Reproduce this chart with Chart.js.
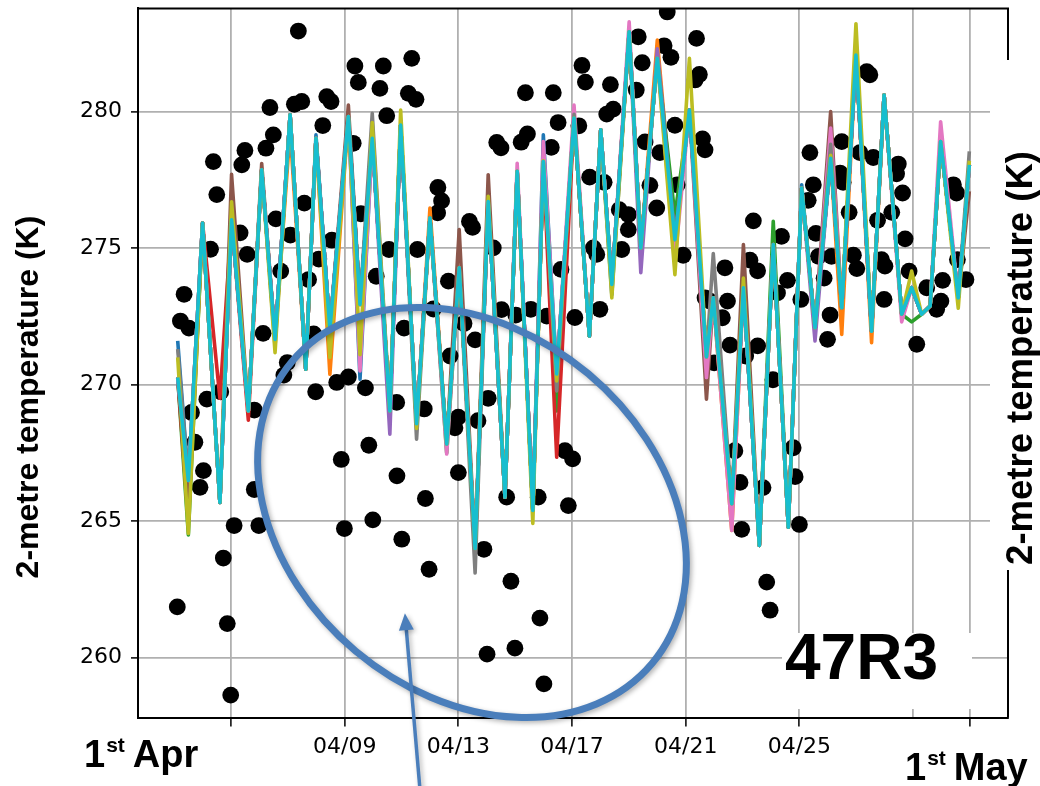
<!DOCTYPE html>
<html>
<head>
<meta charset="utf-8">
<title>2-metre temperature, ensemble vs observations</title>
<script src="https://cdn.jsdelivr.net/npm/chart.js@4.4.1/dist/chart.umd.min.js"></script>
<style>
  html, body { margin: 0; padding: 0; background: #fff; }
  #wrap { width: 1040px; height: 786px; position: relative; }
</style>
</head>
<body>
<div id="wrap"><canvas id="chart" width="1040" height="786"></canvas></div>
<script>
// ---- time axis (days of April; 31 = 1 May) ----
const dateTicks  = [5, 9, 13, 17, 21, 25, 29, 31];
const dateLabels = ['', '04/09', '04/13', '04/17', '04/21', '04/25', '', ''];
const tempTicks  = [260, 265, 270, 275, 280];

// ---- forecast ensemble: shared step times and the control trace (K) ----
const stepDays = [3.125, 3.50, 4.00, 4.61, 5.02, 5.61, 6.08, 6.55, 7.08, 7.63,
  7.99, 8.48, 9.13, 9.54, 9.97, 10.59, 10.97, 11.53, 12.00, 12.59,
  13.03, 13.59, 14.05, 14.64, 15.07, 15.62, 15.99, 16.46, 17.07, 17.61,
  18.01, 18.40, 19.01, 19.42, 20.00, 20.62, 21.13, 21.73, 21.97, 22.62,
  23.03, 23.59, 24.08, 24.61, 25.08, 25.55, 26.10, 26.49, 26.99, 27.54,
  27.98, 28.60, 28.95, 29.30, 29.60, 29.97, 30.59, 30.98];

const controlTemps = [270.26, 266.49, 275.92, 265.69, 276.04, 269.04, 277.87, 271.66, 279.88, 270.57,
  279.02, 272.03, 279.82, 272.94, 279.02, 269.04, 279.51, 268.57, 276.10, 267.83,
  274.28, 264.00, 276.71, 265.88, 277.81, 265.39, 278.17, 270.39, 279.76, 271.78,
  279.33, 273.67, 282.92, 275.01, 281.95, 275.31, 280.06, 271.02, 273.18, 265.64,
  273.55, 264.11, 275.13, 264.78, 277.20, 272.09, 278.29, 272.82, 282.07, 271.96,
  280.61, 272.58, 273.55, 272.58, 272.88, 278.90, 273.18, 278.05];

// members share the control trace except at these steps: [step index, temperature]
const memberBlue   = [[0, 271.6], [10, 279.15], [13, 270.2], [26, 279.15], [31, 273.3], [44, 277.32]];
const memberOrange = [[8, 279.3], [11, 270.38], [18, 276.47], [34, 282.62], [39, 264.66], [47, 271.84], [49, 271.54]];
const memberGreen  = [[1, 264.5], [19, 267.5], [27, 269.04], [35, 276.2], [42, 275.98], [52, 272.3]];
const memberRed    = [[1, 265.0], [3, 269.5], [5, 268.7], [27, 267.34]];
const memberPurple = [[15, 268.19], [31, 273.6], [33, 274.1], [34, 282.3], [45, 271.6]];
const memberBrown  = [[1, 265.5], [4, 277.7], [6, 278.1], [12, 280.24], [20, 275.68], [22, 277.69],
  [37, 269.47], [40, 275.13], [46, 280.0], [57, 277.08]];
const memberPink   = [[13, 270.5], [19, 267.46], [24, 278.11], [26, 278.9], [28, 280.24], [32, 283.29],
  [35, 274.5], [37, 270.26], [39, 264.66], [46, 279.4], [51, 272.3], [55, 279.63]];
const memberGray   = [[0, 271.3], [7, 271.4], [14, 279.94], [17, 268.0], [21, 263.1], [27, 269.77],
  [28, 279.9], [38, 274.8], [46, 278.8], [57, 278.54]];
const memberOlive  = [[0, 271.0], [1, 264.55], [4, 276.7], [7, 271.17], [11, 271.0], [13, 271.1],
  [14, 279.6], [16, 280.06], [17, 268.4], [22, 276.9], [25, 264.92], [26, 278.2], [27, 270.14],
  [31, 273.18], [35, 274.03], [36, 281.95], [40, 273.9], [46, 278.4], [48, 283.22], [52, 274.16],
  [56, 272.8], [57, 278.2]];
const memberCyan   = [];

// ---- station observations ----
const obsDay = [7.37, 9.36, 9.48, 10.36, 10.24, 11.36, 11.24, 11.51, 6.37, 7.23,
  7.49, 8.37, 8.52, 10.48, 8.23, 6.49, 6.23, 5.49, 5.38, 4.38,
  4.50, 9.30, 7.58, 6.58, 9.57, 7.09, 8.55, 12.28, 12.41, 12.27,
  13.39, 13.50, 4.28, 5.57, 8.09, 10.56, 11.56, 5.32, 3.35, 3.22,
  3.52, 6.75, 7.73, 10.11, 12.12, 6.13, 7.91, 11.09, 6.98, 6.86,
  7.98, 8.72, 9.13, 9.73, 4.64, 4.15, 5.82, 3.61, 10.83, 11.80,
  3.73, 9.85, 8.88, 10.84, 4.03, 3.91, 5.82, 11.84, 5.11, 5.98,
  8.99, 9.99, 11.01, 11.97, 4.73, 3.11, 4.87, 4.99, 12.65, 12.71,
  13.00, 13.69, 13.20, 13.59, 13.00, 12.88, 14.05, 13.90, 14.23, 14.52,
  15.02, 15.55, 16.11, 17.10, 17.98, 16.61, 14.35, 14.50, 15.43, 15.21,
  16.27, 15.36, 16.34, 16.51, 17.24, 17.35, 17.47, 18.35, 19.26, 19.47,
  19.33, 20.24, 20.48, 21.38, 20.35, 21.48, 21.33, 18.22, 18.45, 20.62,
  19.57, 20.09, 21.59, 21.68, 17.62, 18.13, 19.74, 20.70, 18.66, 18.98,
  19.98, 18.98, 17.75, 17.87, 18.75, 20.91, 21.68, 16.75, 17.02, 14.70,
  15.81, 16.87, 14.85, 14.01, 14.99, 15.87, 16.01, 23.38, 24.37, 22.38,
  23.26, 23.53, 21.85, 22.47, 22.29, 24.58, 24.23, 22.56, 23.11, 23.53,
  22.00, 24.07, 24.78, 22.73, 22.91, 23.72, 24.85, 22.97, 25.00, 23.85,
  23.97, 27.37, 27.48, 25.37, 26.49, 27.13, 27.60, 28.48, 28.42, 26.43,
  26.54, 25.49, 28.63, 30.42, 30.53, 25.31, 26.75, 27.75, 28.25, 25.58,
  28.72, 25.67, 26.13, 26.90, 27.02, 27.89, 28.01, 25.87, 28.86, 30.56,
  30.86, 30.04, 29.98, 27.98, 26.08, 25.99, 29.13, 29.48, 29.83, 25.05];
const obsTemp = [282.95, 281.67, 281.07, 281.67, 280.85, 281.95, 280.67, 280.45, 280.15, 280.27,
  280.37, 280.55, 280.37, 279.85, 279.49, 279.15, 278.66, 278.58, 278.05, 278.17,
  276.96, 278.84, 276.65, 276.07, 276.26, 275.48, 275.29, 277.22, 276.73, 276.29,
  275.98, 275.76, 274.96, 274.77, 274.60, 274.95, 274.95, 275.56, 273.31, 272.33,
  272.07, 274.16, 273.85, 273.97, 272.77, 271.88, 271.86, 272.07, 270.81, 270.35,
  269.74, 270.08, 270.28, 269.88, 269.74, 269.47, 269.07, 268.98, 269.35, 269.11,
  267.89, 267.78, 267.26, 266.66, 266.85, 266.24, 266.16, 265.83, 264.84, 264.84,
  264.73, 265.05, 264.34, 263.24, 263.65, 261.86, 261.25, 258.63, 273.79, 271.05,
  268.81, 268.68, 272.24, 271.64, 266.78, 268.42, 269.50, 263.97, 275.01, 272.75,
  272.55, 272.76, 272.51, 272.46, 272.76, 274.22, 278.87, 278.67, 279.18, 278.88,
  278.69, 280.69, 280.69, 279.60, 279.48, 281.69, 281.08, 280.99, 280.79, 281.79,
  282.74, 282.41, 281.99, 282.68, 283.65, 281.36, 281.16, 279.91, 280.09, 279.50,
  278.89, 278.50, 279.00, 278.60, 277.60, 277.41, 277.30, 277.32, 276.41, 276.23,
  276.47, 275.68, 275.01, 274.77, 274.95, 274.74, 273.18, 267.58, 267.28, 265.88,
  265.88, 265.57, 262.80, 260.13, 260.35, 261.45, 259.04, 276.00, 275.43, 274.28,
  274.56, 274.17, 273.06, 273.06, 272.45, 273.82, 273.36, 271.45, 271.05, 271.42,
  270.80, 270.18, 267.69, 267.58, 266.42, 266.23, 266.63, 264.70, 264.88, 262.77,
  261.74, 281.46, 281.35, 278.50, 278.90, 278.50, 278.32, 278.08, 277.72, 277.75,
  277.41, 277.32, 277.02, 277.32, 277.02, 276.75, 276.31, 276.02, 276.31, 275.54,
  275.34, 274.70, 274.70, 274.74, 274.25, 274.58, 274.34, 273.90, 274.16, 274.58,
  273.85, 273.82, 273.06, 273.12, 272.55, 271.66, 271.48, 273.55, 272.76, 273.12];

// ---- highlighted region (centre in data units) and pointer arrow ----
const ellipseCentre = [13.48, 265.32];
const arrowTail = [11.65, 255.17];
const arrowHead = [11.12, 261.63];

// ---- build datasets ----
const members = [
  ['#1f77b4', memberBlue], ['#ff7f0e', memberOrange], ['#2ca02c', memberGreen],
  ['#d62728', memberRed], ['#9467bd', memberPurple], ['#8c564b', memberBrown],
  ['#e377c2', memberPink], ['#7f7f7f', memberGray], ['#bcbd22', memberOlive],
  ['#17becf', memberCyan]
];

const datasets = [{
  label: 'obs',
  data: obsDay.map((d, i) => ({ x: d, y: obsTemp[i] })),
  pointRadius: 8.4,
  pointHoverRadius: 8.4,
  pointBackgroundColor: '#000',
  pointBorderWidth: 0,
  showLine: false,
  order: 50
}];

members.forEach(([colour, edits], m) => {
  const temps = controlTemps.slice();
  edits.forEach(([i, t]) => { temps[i] = t; });
  datasets.push({
    label: 'member ' + m,
    data: stepDays.map((d, i) => ({ x: d, y: temps[i] })),
    showLine: true,
    borderColor: colour,
    borderWidth: 3.6,
    borderJoinStyle: 'round',
    pointRadius: 0,
    tension: 0,
    order: 20 - m
  });
});

// fixed axis boxes so the frame sits where it should
function fixY(scale) { scale.width = 138; scale.paddingTop = 0; scale.paddingBottom = 0; }
function fixX(scale) { scale.height = 68.5; scale.paddingLeft = 0; scale.paddingRight = 0; }

// frame, panels, annotations and labels
const decor = {
  id: 'decor',
  afterDraw(chart) {
    const { ctx, chartArea: a, scales: { x, y } } = chart;
    ctx.save();

    // top and right frame lines
    ctx.strokeStyle = '#000';
    ctx.lineWidth = 2;
    ctx.beginPath();
    ctx.moveTo(a.left, a.top);
    ctx.lineTo(a.right, a.top);
    ctx.lineTo(a.right, a.bottom);
    ctx.stroke();

    // white label panels
    ctx.fillStyle = '#fff';
    ctx.fillRect(782, 633, 190, 76);
    ctx.fillRect(990, 60, 50, 510);

    // cycle label
    ctx.fillStyle = '#000';
    ctx.textAlign = 'left';
    ctx.textBaseline = 'alphabetic';
    ctx.font = 'bold 64px "Liberation Sans", Arial, sans-serif';
    ctx.fillText('47R3', 785, 679);

    // axis titles
    ctx.textAlign = 'center';
    ctx.textBaseline = 'middle';
    [[29, 397, 32], [1022, 358, 36.5]].forEach(([cx, cy, size]) => {
      ctx.save();
      ctx.font = 'bold ' + size + 'px "Liberation Sans", Arial, sans-serif';
      ctx.translate(cx, cy);
      ctx.rotate(-Math.PI / 2);
      ctx.fillText('2-metre temperature (K)', 0, 0);
      ctx.restore();
    });

    // month-start labels
    ctx.textAlign = 'left';
    ctx.textBaseline = 'alphabetic';
    const dateWord = (x0, base, word) => {
      ctx.font = 'bold 38px "Liberation Sans", Arial, sans-serif';
      ctx.fillText('1', x0, base);
      const w1 = ctx.measureText('1').width;
      ctx.font = 'bold 21px "Liberation Sans", Arial, sans-serif';
      ctx.fillText('st', x0 + w1 + 1, base - 15);
      const w2 = ctx.measureText('st').width;
      ctx.font = 'bold 38px "Liberation Sans", Arial, sans-serif';
      ctx.fillText(word, x0 + w1 + w2 + 9, base);
    };
    dateWord(84, 767, 'Apr');
    dateWord(905, 780, 'May');

    // highlighted region
    const cx = x.getPixelForValue(ellipseCentre[0]);
    const cy = y.getPixelForValue(ellipseCentre[1]);
    ctx.save();
    ctx.shadowColor = 'rgba(0,0,0,0.3)';
    ctx.shadowBlur = 5;
    ctx.shadowOffsetX = 2;
    ctx.shadowOffsetY = 2;
    ctx.strokeStyle = '#4a7ebb';
    ctx.lineWidth = 7;
    ctx.beginPath();
    ctx.ellipse(cx, cy, 235, 181, 40 * Math.PI / 180, 0, Math.PI * 2);
    ctx.stroke();

    // arrow
    const tx = x.getPixelForValue(arrowTail[0]), ty = y.getPixelForValue(arrowTail[1]);
    const hx = x.getPixelForValue(arrowHead[0]), hy = y.getPixelForValue(arrowHead[1]);
    const len = Math.hypot(hx - tx, hy - ty);
    const ux = (hx - tx) / len, uy = (hy - ty) / len;
    const headLen = 17, headHalf = 7.5;
    const bx = hx - ux * headLen, by = hy - uy * headLen;
    ctx.lineWidth = 3.5;
    ctx.beginPath();
    ctx.moveTo(tx, ty);
    ctx.lineTo(bx + ux * 2, by + uy * 2);
    ctx.stroke();
    ctx.fillStyle = '#4a7ebb';
    ctx.beginPath();
    ctx.moveTo(hx, hy);
    ctx.lineTo(bx - uy * headHalf, by + ux * headHalf);
    ctx.lineTo(bx + uy * headHalf, by - ux * headHalf);
    ctx.closePath();
    ctx.fill();
    ctx.restore();

    ctx.restore();
  }
};

new Chart(document.getElementById('chart'), {
  type: 'scatter',
  data: { datasets },
  options: {
    responsive: false,
    animation: false,
    devicePixelRatio: 1,
    layout: { padding: { left: 0, right: 32, top: 6.5, bottom: 0 } },
    plugins: { legend: { display: false }, tooltip: { enabled: false } },
    events: [],
    scales: {
      x: {
        type: 'linear',
        position: 'bottom',
        min: 1.728,
        max: 32.34,
        afterFit: fixX,
        afterBuildTicks: s => { s.ticks = dateTicks.map(v => ({ value: v })); },
        ticks: {
          autoSkip: false,
          maxRotation: 0,
          padding: 8,
          color: '#000',
          font: { family: '"DejaVu Sans", sans-serif', size: 22 },
          callback: (v, i) => dateLabels[i]
        },
        grid: {
          color: '#b0b0b0',
          lineWidth: 1.8,
          tickLength: 9,
          tickWidth: 1.5,
          tickColor: c => (c.tick && c.tick.value === 29) ? 'rgba(0,0,0,0)' : '#000'
        },
        border: { display: true, color: '#000', width: 2 }
      },
      y: {
        type: 'linear',
        position: 'left',
        min: 257.81,
        max: 283.78,
        afterFit: fixY,
        afterBuildTicks: s => { s.ticks = tempTicks.map(v => ({ value: v })); },
        ticks: {
          padding: 9,
          color: '#000',
          font: { family: '"DejaVu Sans", sans-serif', size: 22 },
          callback: v => String(v)
        },
        grid: {
          color: '#b0b0b0',
          lineWidth: 1.8,
          tickLength: 7,
          tickWidth: 1.5,
          tickColor: '#000'
        },
        border: { display: true, color: '#000', width: 2 }
      }
    }
  },
  plugins: [decor]
});
</script>
</body>
</html>
